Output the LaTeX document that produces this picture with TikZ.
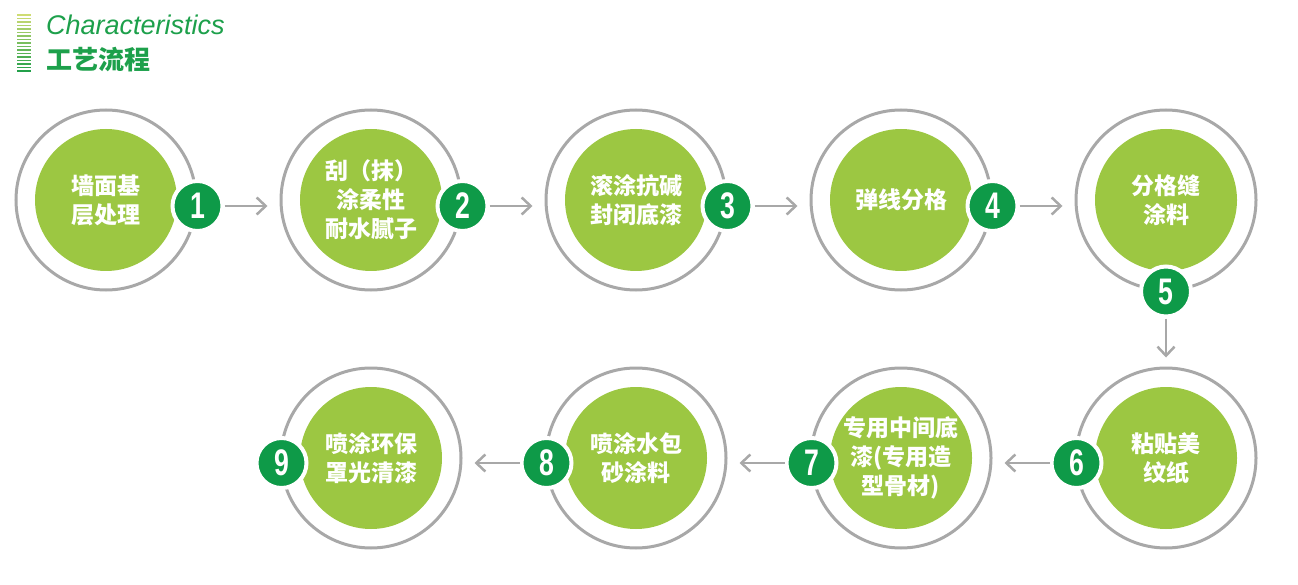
\documentclass[tikz,border=0pt]{standalone}
\usepackage{fontspec}
\usepackage{xcolor}
\usepackage{tikz}
\usetikzlibrary{positioning,arrows.meta,calc}

\newfontfamily\cjk{Noto Sans CJK SC}
\newfontfamily\latin{Liberation Sans}
\newfontfamily\numfont{Liberation Sans}[FakeStretch=0.72]

\definecolor{leaf}{HTML}{9CC742}
\definecolor{deep}{HTML}{0E9A48}
\definecolor{ringgray}{HTML}{A8A8A8}
\definecolor{titlegreen}{HTML}{1DA04B}
\definecolor{stripetop}{HTML}{CFDC73}
\definecolor{stripebot}{HTML}{23A04A}

\begin{document}
\begin{tikzpicture}[
  x=1pt, y=-1pt,
  ring/.style={circle, draw=ringgray, line width=3pt, fill=white,
               minimum size=180pt, inner sep=0pt},
  disc/.style={circle, fill=leaf, minimum size=142pt, inner sep=0pt,
               text=white, align=center,
               font=\cjk\bfseries\fontsize{23}{29}\selectfont},
  badge/.style={circle, fill=deep, draw=white, line width=4pt,
                minimum size=50pt, inner sep=0pt, text=white,
                font=\numfont\bfseries\fontsize{37}{37}\selectfont},
  arr/.style={-{Straight Barb[length=9pt,width=17pt]}, line width=2.5pt,
              draw=ringgray, shorten >=12pt}
]
\useasboundingbox (0,0) rectangle (1298,585);

% header
\foreach \i [evaluate=\i as \p using 6.25*\i] in {0,...,16}
  \draw[draw=stripebot!\p!stripetop, line width=1.8pt] (17,15+3.5*\i) -- (31,15+3.5*\i);
\node[anchor=base west, inner sep=0pt, text=titlegreen,
      font=\latin\itshape\fontsize{27}{27}\selectfont] (title) at (46,35) {Characteristics};
\node[anchor=west, inner sep=0pt, text=titlegreen,
      font=\cjk\bfseries\fontsize{26}{26}\selectfont] (subtitle) at (46,60) {工艺流程};

% top row
\node[ring] (r1) at (106,200) {};
\node[ring, right=82pt of r1] (r2) {};
\node[ring, right=82pt of r2] (r3) {};
\node[ring, right=82pt of r3] (r4) {};
\node[ring, right=82pt of r4] (r5) {};

% bottom row
\node[ring, below=75pt of r5] (r6) {};
\node[ring, left=82pt of r6] (r7) {};
\node[ring, left=82pt of r7] (r8) {};
\node[ring, left=82pt of r8] (r9) {};

\node[disc] (s1) at (r1) {墙面基\\层处理};
\node[disc] (s2) at (r2) {刮（抹）\\涂柔性\\耐水腻子};
\node[disc] (s3) at (r3) {滚涂抗碱\\封闭底漆};
\node[disc] (s4) at (r4) {弹线分格};
\node[disc] (s5) at (r5) {分格缝\\涂料};
\node[disc] (s6) at (r6) {粘贴美\\纹纸};
\node[disc] (s7) at (r7) {专用中间底\\漆(专用造\\型骨材)};
\node[disc] (s8) at (r8) {喷涂水包\\砂涂料};
\node[disc] (s9) at (r9) {喷涂环保\\罩光清漆};

\node[badge] (b1) at ($(r1.east)+(0,6)$) {1};
\node[badge] (b2) at ($(r2.east)+(0,6)$) {2};
\node[badge] (b3) at ($(r3.east)+(0,6)$) {3};
\node[badge] (b4) at ($(r4.east)+(0,6)$) {4};
\node[badge] (b5) at (r5.south) {5};
\node[badge] (b6) at ($(r6.west)+(2,5)$) {6};
\node[badge] (b7) at ($(r7.west)+(2,5)$) {7};
\node[badge] (b8) at ($(r8.west)+(2,5)$) {8};
\node[badge] (b9) at ($(r9.west)+(2,5)$) {9};

\draw[arr] (b1) -- (b1 -| r2.west);
\draw[arr] (b2) -- (b2 -| r3.west);
\draw[arr] (b3) -- (b3 -| r4.west);
\draw[arr] (b4) -- (b4 -| r5.west);
\draw[arr, shorten >=9pt] (b5) -- (b5 |- r6.north);
\draw[arr] (b6) -- (b6 -| r7.east);
\draw[arr] (b7) -- (b7 -| r8.east);
\draw[arr] (b8) -- (b8 -| r9.east);
\end{tikzpicture}
\end{document}
